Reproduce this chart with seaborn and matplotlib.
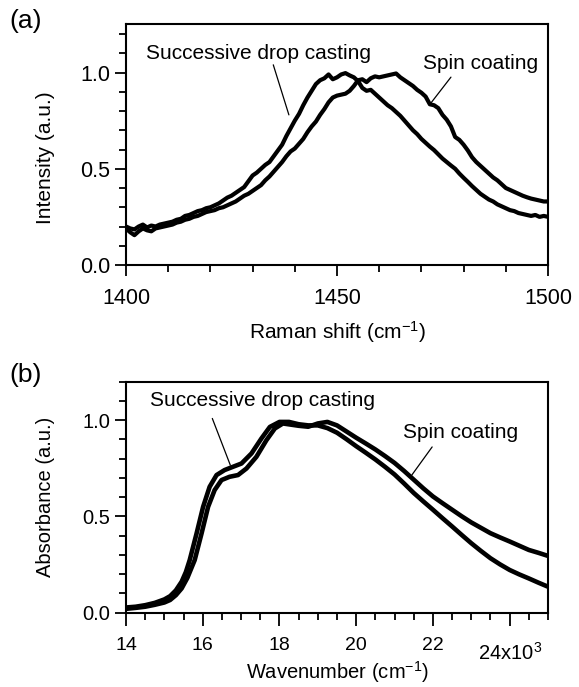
import matplotlib
matplotlib.use("Agg")
import matplotlib.pyplot as plt
from matplotlib.ticker import MultipleLocator
import numpy as np
import pandas as pd
import seaborn as sns

# ---------------- data: panel (a) Raman ----------------
raman_shift = list(range(1400, 1501))
raman_drop = [
    0.200, 0.190, 0.185, 0.200, 0.210, 0.195, 0.205, 0.200, 0.210, 0.215,
    0.220, 0.225, 0.235, 0.240, 0.255, 0.260, 0.270, 0.280, 0.285, 0.295,
    0.300, 0.310, 0.320, 0.335, 0.350, 0.360, 0.375, 0.390, 0.405, 0.435,
    0.465, 0.480, 0.500, 0.520, 0.535, 0.565, 0.595, 0.625, 0.670, 0.710,
    0.750, 0.785, 0.830, 0.870, 0.905, 0.940, 0.960, 0.970, 0.990, 0.965,
    0.975, 0.990, 0.997, 0.985, 0.975, 0.955, 0.920, 0.905, 0.910, 0.890,
    0.870, 0.850, 0.830, 0.815, 0.795, 0.775, 0.750, 0.725, 0.700, 0.680,
    0.655, 0.635, 0.615, 0.597, 0.575, 0.553, 0.535, 0.517, 0.500, 0.475,
    0.453, 0.432, 0.410, 0.390, 0.370, 0.355, 0.340, 0.330, 0.315, 0.305,
    0.295, 0.285, 0.280, 0.270, 0.265, 0.260, 0.255, 0.260, 0.250, 0.255,
    0.250,
]
raman_spin = [
    0.190, 0.170, 0.155, 0.175, 0.190, 0.180, 0.175, 0.190, 0.195, 0.200,
    0.205, 0.210, 0.220, 0.225, 0.235, 0.240, 0.250, 0.255, 0.265, 0.275,
    0.280, 0.285, 0.295, 0.300, 0.310, 0.320, 0.330, 0.345, 0.360, 0.370,
    0.385, 0.400, 0.415, 0.440, 0.460, 0.485, 0.510, 0.535, 0.565, 0.590,
    0.605, 0.630, 0.655, 0.690, 0.720, 0.745, 0.780, 0.810, 0.845, 0.870,
    0.880, 0.885, 0.890, 0.905, 0.930, 0.960, 0.965, 0.950, 0.970, 0.980,
    0.975, 0.980, 0.985, 0.990, 0.995, 0.975, 0.960, 0.945, 0.930, 0.910,
    0.895, 0.875, 0.835, 0.830, 0.815, 0.780, 0.755, 0.720, 0.665, 0.650,
    0.625, 0.595, 0.560, 0.535, 0.515, 0.495, 0.475, 0.455, 0.440, 0.420,
    0.400, 0.390, 0.380, 0.370, 0.360, 0.352, 0.345, 0.340, 0.335, 0.330,
    0.330,
]

# ---------------- data: panel (b) absorbance ----------------
wn_drop = [
    14000, 14250, 14500, 14750, 15000, 15150, 15300, 15450, 15560, 15660,
    15840, 16010, 16180, 16360, 16570, 16790, 17010, 17270, 17530, 17750,
    18000, 18250, 18500, 18750, 19000, 19250, 19500, 19750, 20000, 20250,
    20500, 20750, 21000, 21250, 21500, 21750, 22000, 22250, 22500, 22750,
    23000, 23250, 23500, 23750, 24000, 24250, 24500, 24750, 25000,
]
abs_drop = [
    0.026, 0.030, 0.038, 0.050, 0.068, 0.085, 0.115, 0.160, 0.210, 0.272,
    0.411, 0.549, 0.653, 0.714, 0.740, 0.757, 0.774, 0.826, 0.904, 0.964,
    0.990, 0.990, 0.978, 0.972, 0.972, 0.958, 0.934, 0.900, 0.864, 0.830,
    0.795, 0.757, 0.717, 0.670, 0.621, 0.577, 0.534, 0.490, 0.447, 0.403,
    0.360, 0.320, 0.282, 0.250, 0.221, 0.198, 0.177, 0.155, 0.134,
]
wn_spin = [
    14000, 14250, 14500, 14750, 15000, 15150, 15300, 15450, 15600, 15790,
    15970, 16140, 16310, 16490, 16700, 16920, 17140, 17400, 17660, 17880,
    18090, 18500, 18750, 19000, 19250, 19500, 19750, 20000, 20250, 20500,
    20750, 21000, 21250, 21500, 21750, 22000, 22250, 22500, 22750, 23000,
    23250, 23500, 23750, 24000, 24250, 24500, 24750, 25000,
]
abs_spin = [
    0.019, 0.024, 0.030, 0.040, 0.052, 0.065, 0.090, 0.125, 0.180, 0.272,
    0.411, 0.549, 0.636, 0.688, 0.705, 0.714, 0.748, 0.809, 0.895, 0.956,
    0.982, 0.970, 0.965, 0.982, 0.990, 0.972, 0.940, 0.908, 0.878, 0.847,
    0.813, 0.777, 0.735, 0.690, 0.645, 0.603, 0.568, 0.534, 0.500, 0.468,
    0.440, 0.412, 0.390, 0.369, 0.347, 0.325, 0.310, 0.294,
]

# tick labels
raman_ticks = [1400, 1450, 1500]
raman_ticklabels = ["1400", "1450", "1500"]
wn_ticks = [14000, 16000, 18000, 20000, 22000, 24000]
wn_ticklabels = ["14", "16", "18", "20", "22", ""]
y_ticks = [0.0, 0.5, 1.0]
y_ticklabels = ["0.0", "0.5", "1.0"]

# annotations (text centre, leader line start/end)
ann_a_drop = ("Successive drop casting", (1431.5, 1.10), (1434.9, 1.04), (1438.6, 0.78))
ann_a_spin = ("Spin coating", (1484.1, 1.048), (1477.0, 0.976), (1472.2, 0.84))
ann_b_drop = ("Successive drop casting", (17550, 1.10), (16250, 1.008), (16720, 0.765))
ann_b_spin = ("Spin coating", (22710, 0.934), (21980, 0.86), (21450, 0.714))

# ---------------- style ----------------
sns.set_theme(style="ticks")
plt.rcParams["font.family"] = ["Liberation Sans", "DejaVu Sans"]
plt.rcParams["mathtext.fontset"] = "custom"
plt.rcParams["mathtext.rm"] = "Liberation Sans"
plt.rcParams["mathtext.it"] = "Liberation Sans:italic"
plt.rcParams["mathtext.bf"] = "Liberation Sans:bold"
plt.rcParams["axes.linewidth"] = 1.5
plt.rcParams["axes.edgecolor"] = "black"
plt.rcParams["text.color"] = "black"
plt.rcParams["axes.labelcolor"] = "black"
plt.rcParams["xtick.color"] = "black"
plt.rcParams["ytick.color"] = "black"

W, H = 579, 687
fig = plt.figure(figsize=(W / 100, H / 100), dpi=100)
fig.patch.set_facecolor("white")

axa = fig.add_axes([126 / W, 1 - 265 / H, 422 / W, 240.6 / H])
axb = fig.add_axes([126 / W, 1 - 612.5 / H, 422 / W, 231 / H])

df_a = pd.DataFrame({
    "x": raman_shift * 2,
    "y": raman_drop + raman_spin,
    "sample": ["drop"] * len(raman_shift) + ["spin"] * len(raman_shift),
})
df_b = pd.DataFrame({
    "x": wn_drop + wn_spin,
    "y": abs_drop + abs_spin,
    "sample": ["drop"] * len(wn_drop) + ["spin"] * len(wn_spin),
})

sns.lineplot(data=df_a, x="x", y="y", units="sample", estimator=None, sort=False,
             color="black", lw=3.0, ax=axa, legend=False)
sns.lineplot(data=df_b, x="x", y="y", units="sample", estimator=None, sort=False,
             color="black", lw=3.3, ax=axb, legend=False)

for ax in (axa, axb):
    ax.set_facecolor("white")
    for s in ax.spines.values():
        s.set_visible(True)
        s.set_linewidth(1.5)
        s.set_color("black")
    ax.set_yticks(y_ticks)
    ax.set_yticklabels(y_ticklabels)
    ax.yaxis.set_minor_locator(MultipleLocator(0.1))
    ax.tick_params(which="major", direction="out", length=8, width=1.3,
                   color="black", top=False, right=False)
    ax.tick_params(which="minor", direction="out", length=4.8, width=1.3,
                   color="black", top=False, right=False)
    ax.tick_params(axis="x", which="major", pad=8.5)
    ax.tick_params(axis="y", which="major", pad=3.5)

# panel (a)
axa.set_xlim(1400, 1500)
axa.set_ylim(0, 1.25)
axa.set_xticks(raman_ticks)
axa.set_xticklabels(raman_ticklabels)
axa.xaxis.set_minor_locator(MultipleLocator(10))
axa.tick_params(axis="both", which="major", labelsize=15.5)
axa.set_xlabel(r"Raman shift (cm$^{\mathrm{-1}}$)", fontsize=15)
axa.set_ylabel("Intensity (a.u.)", fontsize=15)
axa.xaxis.set_label_coords(0.5, -0.225)
axa.xaxis.label.set_va("top")
axa.yaxis.set_label_coords(-0.168, 0.447)

# panel (b)
axb.set_xlim(14000, 25000)
axb.set_ylim(0, 1.2)
axb.set_xticks(wn_ticks)
axb.set_xticklabels(wn_ticklabels)
axb.xaxis.set_minor_locator(MultipleLocator(500))
axb.tick_params(axis="x", which="major", labelsize=14, length=9)
axb.tick_params(axis="y", which="major", labelsize=14.5)
axb.set_xlabel(r"Wavenumber (cm$^{-1}$)", fontsize=14.5)
axb.set_ylabel("Absorbance (a.u.)", fontsize=14.5)
axb.xaxis.set_label_coords(0.5, -0.2)
axb.xaxis.label.set_va("top")
axb.yaxis.set_label_coords(-0.168, 0.5)
axb.text(24000, -0.2026, r"24x10$^{3}$", transform=axb.get_xaxis_transform(),
         ha="center", va="baseline", fontsize=14.5)

def annotate(ax, ann, fs=15):
    label, tpos, lstart, lend = ann
    ax.text(tpos[0], tpos[1], label, ha="center", va="center", fontsize=fs)
    ax.annotate("", xy=lend, xytext=lstart,
                arrowprops=dict(arrowstyle="-", lw=0.9, color="black",
                                shrinkA=0, shrinkB=0))

annotate(axa, ann_a_drop)
annotate(axa, ann_a_spin)
annotate(axb, ann_b_drop)
annotate(axb, ann_b_spin)

fig.text(26 / W, 1 - 21 / H, "(a)", ha="center", va="center", fontsize=19)
fig.text(26 / W, 1 - 375 / H, "(b)", ha="center", va="center", fontsize=19)

fig.savefig("out.png", dpi=100, facecolor="white")
